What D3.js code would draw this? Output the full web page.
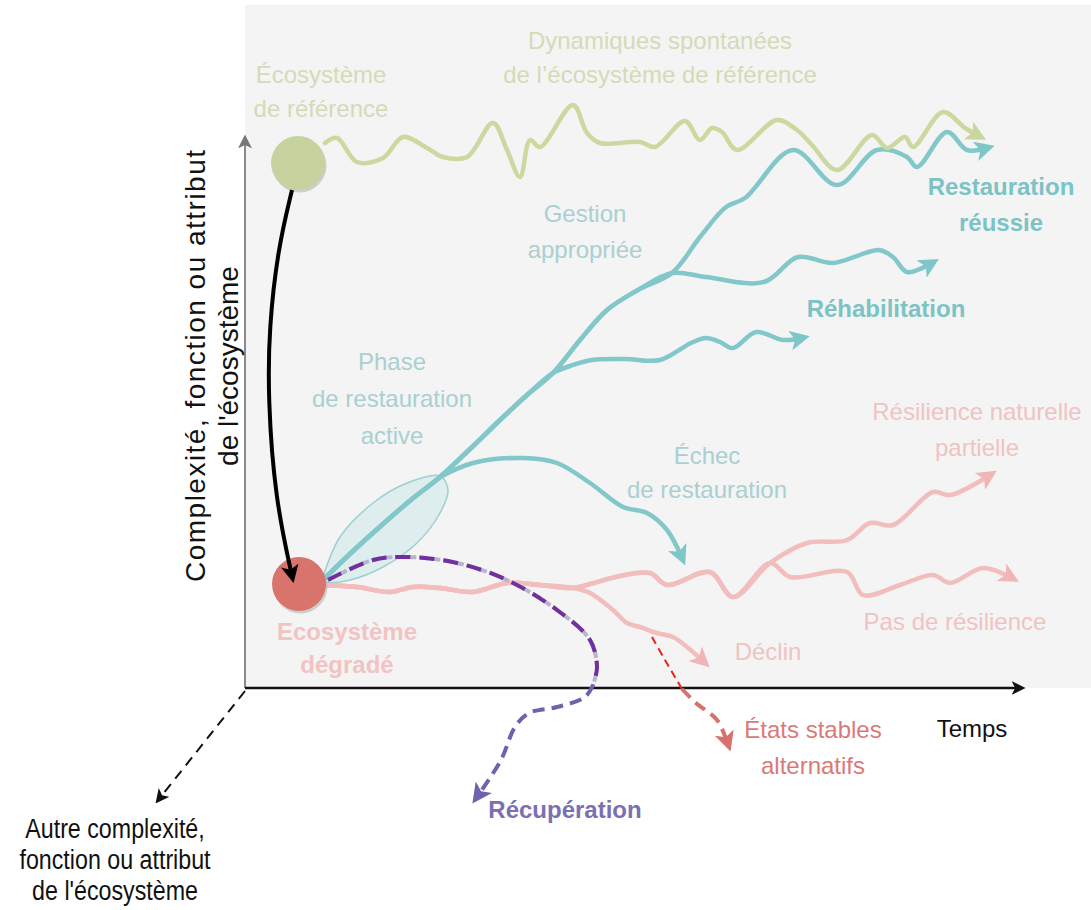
<!DOCTYPE html>
<html>
<head>
<meta charset="utf-8">
<script src="https://cdn.jsdelivr.net/npm/d3@7/dist/d3.min.js"></script>
<style>
  html, body { margin: 0; padding: 0; background: #ffffff; }
  svg { display: block; }
  text { font-family: "Liberation Sans", Arial, Helvetica, sans-serif; }
</style>
</head>
<body>
<svg id="chart" width="1091" height="910"></svg>
<script>
// ---------- DATA (time t, complexity c) ----------
const axisTime = [0, 780];
const axisComplexity = [0, 548];

const referenceNode = [53, 525];
const degradedNode = [54, 104];

const referenceDynamics = [
  [80,545],[92,550],[112,526],[138,530],[158,551],[182,540],[198,531],[222,531],
  [248,565],[262,538],[275,511],[285,548],[295,541],[328,583],[342,555],[355,545],
  [395,546],[410,541],[440,567],[455,548],[467,560],[477,556],[492,538],[532,568],
  [552,558],[567,543],[592,518],[627,553],[642,540],[660,551],[668,541],[698,576],
  [720,560],[734,552]
];

const restorationTrunk = [
  [80,110],[107,136],[138,164],[167,189],[195,211],[225,239],[255,268],[282,293],[308,315]
];
const upperTrunk = [[308,315],[335,348],[362,378],[393,398],[427,415]];
const restorationSuccess = [
  [427,415],[455,451],[481,481],[500,490],[548,538],[592,503],[632,538],[662,531],
  [672,521],[702,556],[722,538],[742,540]
];
const rehabilitation = [
  [427,415],[461,411],[519,406],[553,431],[588,425],[634,438],[648,431],[662,416],[687,425]
];
const lowerBranch = [
  [308,315],[325,322],[347,328],[380,329],[415,328],[446,345],[461,350],[475,346],
  [488,340],[511,356],[538,348],[557,350]
];
const restorationFailure = [
  [195,211],[228,225],[278,230],[312,225],[345,205],[378,181],[402,175],[422,158],[437,130]
];
const activePhaseEnvelope = [
  [78,111],[95,151],[128,185],[162,205],[195,212],[203,198],[195,175],[172,145],
  [138,121],[105,108],[82,106]
];

const degradedPath = [
  [80,103],[112,101],[145,96],[168,101],[195,100],[228,96],[262,105],[295,103],
  [328,100],[345,104],[375,112],[405,115],[422,103],[465,116],[488,91],[525,125]
];
const naturalResilience = [
  [525,125],[562,145],[602,148],[625,165],[648,163],[688,196],[705,193],[745,213]
];
const noResilience = [
  [525,125],[545,111],[602,116],[618,93],[655,103],[688,113],[705,105],[738,120],[767,110]
];
const decline = [
  [328,100],[345,95],[368,78],[382,65],[395,61],[412,55],[428,51],[442,41],[459,26]
];

const recoveryUpper = [
  [83,108],[128,128],[162,131],[212,125],[262,108],[312,78],[345,48],[352,21],[348,3]
];
const recoveryLower = [
  [348,3],[340,-9],[312,-19],[284,-25],[270,-39],[256,-72],[232,-109]
];
const altStatesUpper = [[407,51],[420,28],[437,-1]];
const altStatesLower = [[437,-1],[451,-15],[472,-32],[483,-56]];

const degradationArrow = [[47,498],[33,440],[24,360],[23,290],[30,190],[47,112]];
const otherAxis = [[0,-3],[-86,-111]];

const otherAxisLabel = ["Autre complexité,", "fonction ou attribut", "de l'écosystème"];
const verticalAxisLabel = ["Complexité, fonction ou attribut", "de l'écosystème"];

// ---------- SCALES ----------
const svg = d3.select("#chart");
const x = d3.scaleLinear().domain([0, 780]).range([245, 1025]);
const y = d3.scaleLinear().domain([0, 550]).range([688, 138]);

const line = d3.line().x(d => x(d[0])).y(d => y(d[1])).curve(d3.curveCatmullRom.alpha(0.5));
const straight = d3.line().x(d => x(d[0])).y(d => y(d[1]));

// ---------- MARKERS ----------
const defs = svg.append("defs");
function marker(id, color, size) {
  defs.append("marker")
    .attr("id", id)
    .attr("viewBox", "0 0 10 10")
    .attr("refX", 6).attr("refY", 5)
    .attr("markerWidth", size).attr("markerHeight", size)
    .attr("markerUnits", "userSpaceOnUse")
    .attr("orient", "auto")
    .append("path").attr("d", "M0,0 L10,5 L0,10 L2.5,5 z").attr("fill", color);
}
marker("mTeal", "#7fc6c8", 20);
marker("mGreen", "#c9d79e", 20);
marker("mPink", "#f0b5b5", 20);
marker("mPurple", "#6c63ae", 20);
marker("mRed", "#d8716e", 20);
marker("mBlack", "#000000", 18);
marker("mBlackAx", "#111111", 14);
marker("mGray", "#777777", 14);

// ---------- BACKGROUND & AXES ----------
svg.append("rect").attr("x", 245).attr("y", 5).attr("width", 846).attr("height", 683)
  .attr("fill", "#f4f4f4");

svg.append("path")
  .attr("d", straight([[0, axisComplexity[0]], [0, axisComplexity[1]]]))
  .attr("stroke", "#8a8a8a").attr("stroke-width", 2).attr("fill", "none")
  .attr("marker-end", "url(#mGray)");
svg.append("path")
  .attr("d", straight([[axisTime[0], 0], [axisTime[1] - 5, 0]]))
  .attr("stroke", "#111").attr("stroke-width", 2.5).attr("fill", "none")
  .attr("marker-end", "url(#mBlackAx)");

svg.append("path").attr("d", straight(otherAxis))
  .attr("stroke", "#111").attr("stroke-width", 2).attr("fill", "none")
  .attr("stroke-dasharray", "10 7")
  .attr("marker-end", "url(#mBlackAx)");

// ---------- TEAL (restoration) ----------
svg.append("path").attr("d", line(activePhaseEnvelope.concat([activePhaseEnvelope[0]])))
  .attr("fill", "#d9ebeb").attr("fill-opacity", 0.85)
  .attr("stroke", "#9fd0d1").attr("stroke-width", 1.5);

const teal = "#82c7c9";
function tealPath(pts) {
  svg.append("path").attr("d", line(pts))
    .attr("stroke", teal).attr("stroke-width", 4.5).attr("fill", "none")
    .attr("stroke-linecap", "round").attr("stroke-linejoin", "round")
    .attr("marker-end", "url(#mTeal)");
}
tealPath(restorationTrunk.concat(upperTrunk.slice(1), restorationSuccess.slice(1)));
tealPath(restorationTrunk.concat(upperTrunk.slice(1), rehabilitation.slice(1)));
tealPath(restorationTrunk.concat(lowerBranch.slice(1)));
tealPath(restorationFailure);

// ---------- GREEN (reference) ----------
svg.append("path").attr("d", line(referenceDynamics))
  .attr("stroke", "#cbd9a1").attr("stroke-width", 4.5).attr("fill", "none")
  .attr("stroke-linecap", "round").attr("stroke-linejoin", "round")
  .attr("marker-end", "url(#mGreen)");

// ---------- PINK (degraded) ----------
const pink = "#f2bdbd";
function pinkPath(pts) {
  svg.append("path").attr("d", line(pts))
    .attr("stroke", pink).attr("stroke-width", 4.5).attr("fill", "none")
    .attr("stroke-linecap", "round").attr("stroke-linejoin", "round")
    .attr("marker-end", "url(#mPink)");
}
pinkPath(degradedPath.concat(naturalResilience.slice(1)));
pinkPath(degradedPath.concat(noResilience.slice(1)));
pinkPath(degradedPath.slice(0, 9).concat(decline.slice(1)));

// ---------- RECOVERY (purple dashed) ----------
svg.append("path").attr("d", line(recoveryUpper))
  .attr("stroke", "#b9b4cb").attr("stroke-width", 4).attr("fill", "none")
  .attr("stroke-dasharray", "9 3");
svg.append("path").attr("d", line(recoveryUpper))
  .attr("stroke", "#7030a0").attr("stroke-width", 4).attr("fill", "none")
  .attr("stroke-dasharray", "15 9");
svg.append("path").attr("d", line(recoveryLower))
  .attr("stroke", "#6c63ae").attr("stroke-width", 4).attr("fill", "none")
  .attr("stroke-dasharray", "12 7")
  .attr("marker-end", "url(#mPurple)");

// ---------- ALTERNATIVE STABLE STATES (red dashed) ----------
svg.append("path").attr("d", line(altStatesUpper))
  .attr("stroke", "#e8231e").attr("stroke-width", 2).attr("fill", "none")
  .attr("stroke-dasharray", "8 5");
svg.append("path").attr("d", line(altStatesLower))
  .attr("stroke", "#d8716e").attr("stroke-width", 4).attr("fill", "none")
  .attr("stroke-dasharray", "12 7")
  .attr("marker-end", "url(#mRed)");

// ---------- NODES ----------
[[referenceNode, "#c6d39f"], [degradedNode, "#d8746c"]].forEach(([n, col]) => {
  svg.append("circle").attr("cx", x(n[0]) + 1.5).attr("cy", y(n[1]) + 2.5).attr("r", 27)
    .attr("fill", "#a8a8a8").attr("opacity", 0.5);
  svg.append("circle").attr("cx", x(n[0])).attr("cy", y(n[1])).attr("r", 27).attr("fill", col);
});

// ---------- DEGRADATION ARROW ----------
svg.append("path").attr("d", d3.line().x(d => x(d[0])).y(d => y(d[1])).curve(d3.curveBasis)(degradationArrow))
  .attr("stroke", "#000").attr("stroke-width", 4).attr("fill", "none")
  .attr("marker-end", "url(#mBlack)");

// ---------- LABELS ----------
function label(lines, cx, y0, dy, color, size, weight) {
  const t = svg.append("text").attr("text-anchor", "middle")
    .attr("fill", color).attr("font-size", size).attr("font-weight", weight || "normal");
  lines.forEach((s, i) => t.append("tspan").attr("x", cx).attr("y", y0 + i * dy).text(s));
  return t;
}
label(["Écosystème", "de référence"], 321, 83, 34, "#d3dbb6", 24);
label(["Dynamiques spontanées", "de l’écosystème de référence"], 660, 49, 34, "#d3dbb6", 24);
label(["Gestion", "appropriée"], 585, 222, 36, "#a9d0d0", 24);
label(["Restauration", "réussie"], 1001, 195, 36, "#7cc3c5", 24, "bold");
label(["Réhabilitation"], 886, 317, 0, "#7cc3c5", 24, "bold");
label(["Phase", "de restauration", "active"], 392, 370, 37, "#a9d0d0", 24);
label(["Échec", "de restauration"], 707, 464, 34, "#a9d0d0", 24);
label(["Résilience naturelle", "partielle"], 977, 420, 36, "#f0c3c3", 24);
label(["Pas de résilience"], 955, 630, 0, "#f0c3c3", 24);
label(["Déclin"], 768, 660, 0, "#f0c3c3", 24);
label(["Ecosystème", "dégradé"], 347, 640, 33, "#f2c3c3", 24, "bold");
label(["États stables", "alternatifs"], 813, 738, 36, "#d97a79", 24);
label(["Temps"], 972, 737, 0, "#111", 24);
label(["Récupération"], 565, 818, 0, "#7a70b2", 24, "bold");

// condensed black label (horizontal scale keeps it real text)
const other = svg.append("g").attr("transform", "translate(115,0) scale(0.83,1)")
  .append("text").attr("text-anchor", "middle").attr("fill", "#111").attr("font-size", 28);
otherAxisLabel.forEach((s, i) =>
  other.append("tspan").attr("x", 0).attr("y", 838 + i * 31).text(s));

const yl = svg.append("g").attr("transform", "translate(205,366) rotate(-90)");
yl.append("text").attr("text-anchor", "middle").attr("fill", "#111").attr("font-size", 28)
  .attr("textLength", 432).attr("lengthAdjust", "spacing")
  .text(verticalAxisLabel[0]);
yl.append("text").attr("text-anchor", "middle").attr("fill", "#111").attr("font-size", 28)
  .attr("y", 33).text(verticalAxisLabel[1]);
</script>
</body>
</html>
